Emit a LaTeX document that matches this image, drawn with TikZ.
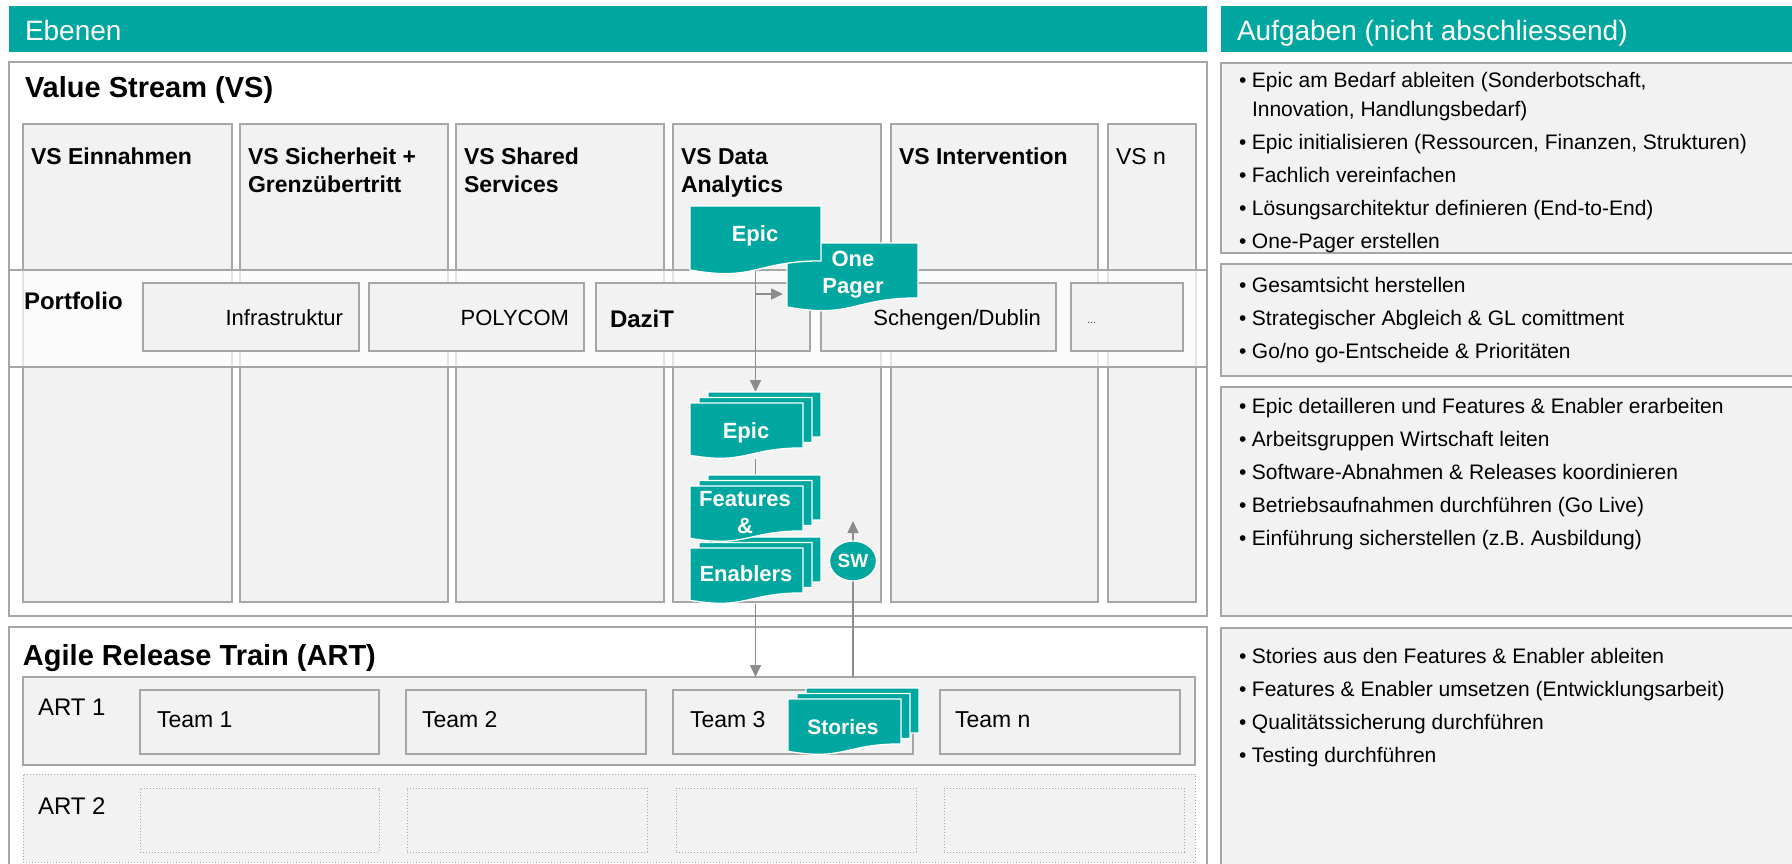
\documentclass[tikz,border=0pt]{standalone}
\usepackage{fontspec}
\setmainfont{Liberation Sans}
\usetikzlibrary{arrows.meta,calc,shapes.geometric}
\definecolor{teal1}{HTML}{00A6A0}
\definecolor{bord}{HTML}{A6A6A6}
\definecolor{boxfill}{HTML}{F2F2F2}
\definecolor{arr}{HTML}{8C8C8C}
\newcommand\fsz[2]{\fontsize{#1}{#2}\selectfont}
\newcommand\rect[6]{\node[#1, minimum width={#5-#3}, minimum height={#6-#4}] (#2) at (#3,#4) {};}
\newcommand\docshape[4]{%
  \path[docsh] ({#1},{#2}) -- ({#1+#3},{#2}) -- ({#1+#3},{#2+0.802*#4})
   .. controls ({#1+0.5*#3},{#2+0.802*#4}) and ({#1+0.5*#3},{#2+1.1075*#4}) ..
   ({#1},{#2+0.934*#4}) -- cycle;}
\newcommand\docstack[4]{%
  \docshape{#1+18}{#2-11}{#3}{#4}\docshape{#1+9}{#2-5.5}{#3}{#4}\docshape{#1}{#2}{#3}{#4}}
\newcommand\bl{\makebox[13pt][l]{•}}
\newcommand\ind{\hspace*{13pt}}
\begin{document}
\begin{tikzpicture}[x=1pt,y=-1pt,
  bx/.style={draw=bord, line width=1.5pt, fill=boxfill, inner sep=0, outer sep=0, anchor=north west},
  wbx/.style={bx, fill=white},
  dbx/.style={draw=bord, line width=1pt, dotted, fill=boxfill, inner sep=0, outer sep=0, anchor=north west},
  hdr/.style={fill=teal1, draw=none, inner sep=0, outer sep=0, anchor=north west},
  txt/.style={inner sep=0, outer sep=0, anchor=base west, text=black},
  rtxt/.style={txt, anchor=base east},
  anc/.style={inner sep=0, outer sep=0, anchor=north west, draw=none},
  docsh/.style={fill=teal1, draw=white, line width=1.3pt},
  conn/.style={draw=arr, line width=1.6pt},
  tip/.style={-{Triangle[length=12pt,width=11pt]}},
  dlab/.style={inner sep=0, outer sep=0, anchor=base, text=white, font=\bfseries\fsz{22}{27}},
  coltf/.style={font=\bfseries\fsz{23}{28}},
  itf/.style={font=\fsz{22}{26}},
  tmf/.style={font=\fsz{23}{27}},
  bul/.style={txt, font=\fsz{21}{29}}
]
\useasboundingbox (0,0) rectangle (1792,864);
\fill[white] (0,0) rectangle (1792,864);

% headers
\rect{hdr}{hdrL}{9}{6}{1207}{52}
\rect{hdr}{hdrR}{1221}{6}{1800}{52}
\node[txt, text=white, font=\fsz{28}{34}] (hdrLt) at (25,41) {Ebenen};
\node[txt, text=white, font=\fsz{28}{34}] (hdrRt) at (1237,41) {Aufgaben (nicht abschliessend)};

% Value stream
\rect{wbx}{vs}{9}{62}{1207}{616}
\node[txt, font=\bfseries\fsz{29}{35}] (vst) at (25,98) {Value Stream (VS)};
\rect{bx}{col1}{23}{124}{232}{602}
\rect{bx}{col2}{240}{124}{448}{602}
\rect{bx}{col3}{456}{124}{664}{602}
\rect{bx}{col4}{673}{124}{881}{602}
\rect{bx}{col5}{891}{124}{1098}{602}
\rect{bx}{col6}{1108}{124}{1196}{602}
\node[txt, coltf] (c1t) at (31,165) {VS Einnahmen};
\node[txt, coltf] (c2t) at (248,165) {\begin{tabular}[t]{@{}l@{}}VS Sicherheit +\\Grenzübertritt\end{tabular}};
\node[txt, coltf] (c3t) at (464,165) {\begin{tabular}[t]{@{}l@{}}VS Shared\\Services\end{tabular}};
\node[txt, coltf] (c4t) at (681,165) {\begin{tabular}[t]{@{}l@{}}VS Data\\Analytics\end{tabular}};
\node[txt, coltf] (c5t) at (899,165) {VS Intervention};
\node[txt, font=\fsz{23}{28}] (c6t) at (1116,165) {VS n};

% Portfolio band
\node[draw=bord, line width=1.5pt, fill=white, fill opacity=0.7, inner sep=0, outer sep=0,
  anchor=north west, minimum width=1198, minimum height=97] (band) at (9,270) {};
\node[txt, font=\bfseries\fsz{24}{28}] (pfl) at (24,309) {Portfolio};
\rect{bx}{pf1}{143}{283}{359}{351}
\rect{bx}{pf2}{369}{283}{584}{351}
\rect{bx}{pf3}{596}{283}{810}{351}
\rect{bx}{pf4}{821}{283}{1056}{351}
\rect{bx}{pf5}{1071}{283}{1183}{351}
\node[rtxt, itf] (pf1t) at (343,325) {Infrastruktur};
\node[rtxt, itf] (pf2t) at (569,325) {POLYCOM};
\node[txt, font=\bfseries\fsz{24}{28}] (pf3t) at (610,327) {DaziT};
\node[rtxt, itf] (pf4t) at (1041,325) {Schengen/Dublin};
\node[txt, font=\fsz{11}{13}, text=black!70] (pf5t) at (1087,323) {...};

% ART
\rect{wbx}{art}{9}{627}{1207}{880}
\node[txt, font=\bfseries\fsz{29}{35}] (artt) at (23,665) {Agile Release Train (ART)};
\rect{bx}{art1}{23}{677}{1195}{765}
\node[txt, font=\fsz{24}{28}] (art1t) at (38,715) {ART 1};
\rect{bx}{team1}{140}{690}{379}{754}
\rect{bx}{team2}{406}{690}{646}{754}
\rect{bx}{team3}{673}{690}{913}{754}
\rect{bx}{team4}{940}{690}{1180}{754}
\node[txt, tmf] (team1t) at (157,727) {Team 1};
\node[txt, tmf] (team2t) at (422,727) {Team 2};
\node[txt, tmf] (team3t) at (690,727) {Team 3};
\node[txt, tmf] (team4t) at (955,727) {Team n};
\rect{dbx}{art2}{23}{774}{1195}{862}
\node[txt, font=\fsz{24}{28}] (art2t) at (38,814) {ART 2};
\rect{dbx}{d1}{140}{788}{379}{852}
\rect{dbx}{d2}{407}{788}{647}{852}
\rect{dbx}{d3}{676}{788}{916}{852}
\rect{dbx}{d4}{944}{788}{1184}{852}

% right panel
\rect{bx}{rb1}{1221}{63}{1800}{253}
\rect{bx}{rb2}{1221}{264}{1800}{376}
\rect{bx}{rb3}{1221}{387}{1800}{616}
\rect{bx}{rb4}{1221}{628}{1800}{880}
\node[bul] (rb1t) at (1239,88) {\begin{tabular}[t]{@{}l@{}}
\bl Epic am Bedarf ableiten (Sonderbotschaft,\\
\ind Innovation, Handlungsbedarf)\\[4pt]
\bl Epic initialisieren (Ressourcen, Finanzen, Strukturen)\\[4pt]
\bl Fachlich vereinfachen\\[4pt]
\bl Lösungsarchitektur definieren (End-to-End)\\[4pt]
\bl One-Pager erstellen\end{tabular}};
\node[bul] (rb2t) at (1239,292) {\begin{tabular}[t]{@{}l@{}}
\bl Gesamtsicht herstellen\\[4pt]
\bl Strategischer Abgleich \& GL comittment\\[4pt]
\bl Go/no go-Entscheide \& Prioritäten\end{tabular}};
\node[bul] (rb3t) at (1239,413) {\begin{tabular}[t]{@{}l@{}}
\bl Epic detailleren und Features \& Enabler erarbeiten\\[4pt]
\bl Arbeitsgruppen Wirtschaft leiten\\[4pt]
\bl Software-Abnahmen \& Releases koordinieren\\[4pt]
\bl Betriebsaufnahmen durchführen (Go Live)\\[4pt]
\bl Einführung sicherstellen (z.B. Ausbildung)\end{tabular}};
\node[bul] (rb4t) at (1239,663) {\begin{tabular}[t]{@{}l@{}}
\bl Stories aus den Features \& Enabler ableiten\\[4pt]
\bl Features \& Enabler umsetzen (Entwicklungsarbeit)\\[4pt]
\bl Qualitätssicherung durchführen\\[4pt]
\bl Testing durchführen\end{tabular}};

% anchor nodes of the document shapes
\node[anc, minimum width=131, minimum height=68.5] (epicA) at (690,206) {};
\node[anc, minimum width=131, minimum height=68.5] (onepg) at (787,243) {};
\node[anc, minimum width=131, minimum height=67] (epicS) at (690,392) {};
\node[anc, minimum width=131, minimum height=67] (featS) at (690,475) {};
\node[anc, minimum width=131, minimum height=67] (enabS) at (690,537) {};
\node[anc, minimum width=131, minimum height=67] (storS) at (788,688) {};
\coordinate (hs) at (755.5,294);
\coordinate (swc) at (853,561);
\coordinate (swtip) at (853,521);

% connectors
\draw[conn, tip] (epicA.center) -- (epicS.north);
\draw[conn, tip, shorten >=4pt] (hs) -- (hs -| onepg.west);
\draw[conn] (epicS.south) -- (featS.north);
\draw[conn, tip] (enabS.south) -- (enabS.south |- art1.north);
\draw[conn, tip] (swc |- art1.north) -- (swtip);

% document shapes
\docshape{787}{243}{131}{68.5}
\docshape{690}{206}{131}{68.5}
\docstack{690}{403}{113}{56}
\docstack{690}{548}{113}{56}
\docstack{690}{486}{113}{56}
\docstack{788}{699}{113}{56}
\node[ellipse, fill=teal1, draw=white, line width=1.3pt, inner sep=0, minimum width=47, minimum height=40,
  text=white, font=\bfseries\fsz{19}{22}] (sw) at (swc) {SW};

\node[dlab] (epicAt) at (755,241) {Epic};
\node[dlab] (onepgt) at (853,266) {\begin{tabular}[t]{@{}c@{}}One\\Pager\end{tabular}};
\node[dlab] (epicSt) at (746,438) {Epic};
\node[dlab] (featSt) at (745,506) {\begin{tabular}[t]{@{}c@{}}Features\\\&\end{tabular}};
\node[dlab] (enabSt) at (746,581) {Enablers};
\node[dlab, font=\bfseries\fsz{21}{25}] (storSt) at (843,734) {Stories};
\end{tikzpicture}
\end{document}
